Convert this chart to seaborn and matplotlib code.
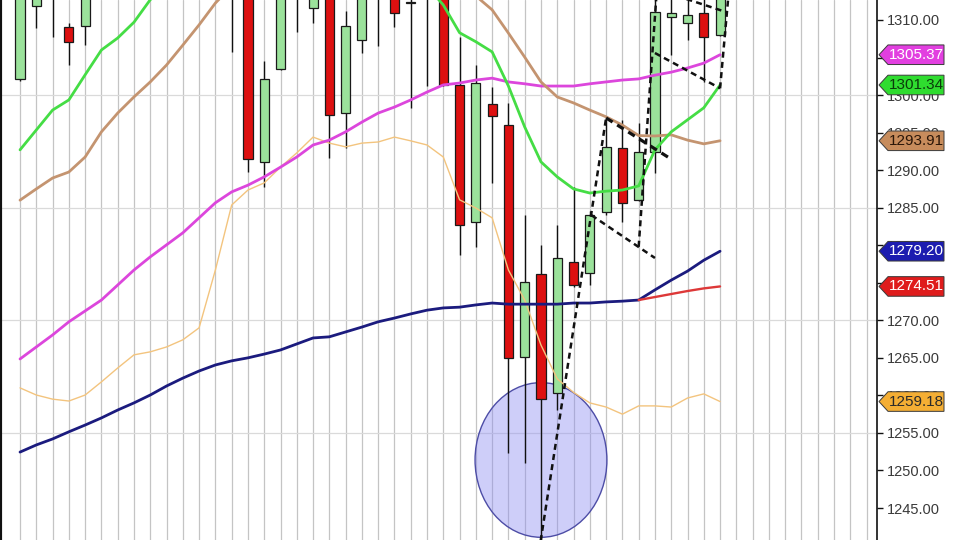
import numpy as np
import pandas as pd
import matplotlib
matplotlib.use("Agg")
import matplotlib.pyplot as plt
import seaborn as sns
from matplotlib.patches import Polygon, Ellipse
from matplotlib.transforms import blended_transform_factory

# ---------------- data ----------------
days = np.arange(44)

opens = [1302.1, 1311.9, 1316.0, 1309.1, 1309.2, 1315.0, 1318.0, 1320.0, 1322.0, 1321.0,
         1323.0, 1322.0, 1324.0, 1321.0, 1316.0, 1291.1, 1303.5, 1316.0, 1311.6, 1315.0,
         1297.6, 1307.35, 1317.0, 1316.0, 1312.25, 1314.0, 1316.0, 1301.35, 1283.1, 1298.8,
         1296.0, 1265.1, 1276.2, 1260.3, 1277.8, 1276.3, 1284.4, 1292.95, 1286.0, 1292.4,
         1310.4, 1309.6, 1310.9, 1308.0]
closes = [1316.0, 1315.0, 1314.0, 1307.1, 1316.0, 1318.0, 1320.0, 1322.0, 1321.0, 1323.0,
          1322.0, 1324.0, 1322.0, 1318.0, 1291.5, 1302.1, 1314.0, 1313.5, 1315.0, 1297.35,
          1309.2, 1315.0, 1315.0, 1310.9, 1312.3, 1316.0, 1301.35, 1282.7, 1301.6, 1297.2,
          1265.0, 1275.1, 1259.5, 1278.3, 1274.7, 1284.0, 1293.1, 1285.6, 1292.4, 1311.1,
          1310.9, 1310.7, 1307.7, 1314.0]
highs = [1317.0, 1316.0, 1317.0, 1309.6, 1317.0, 1319.0, 1321.0, 1323.0, 1324.0, 1324.5,
         1325.0, 1325.0, 1326.0, 1323.0, 1318.0, 1304.5, 1315.0, 1318.0, 1316.0, 1316.5,
         1311.2, 1316.0, 1318.0, 1317.0, 1315.0, 1317.0, 1317.0, 1307.7, 1304.0, 1301.1,
         1298.9, 1284.0, 1280.0, 1282.7, 1287.8, 1284.6, 1297.0, 1296.7, 1296.3, 1313.5,
         1313.5, 1313.5, 1313.5, 1315.0]
lows = [1301.9, 1308.9, 1307.7, 1304.0, 1306.7, 1314.0, 1316.0, 1318.0, 1319.0, 1319.5,
        1320.0, 1320.5, 1319.0, 1305.7, 1289.8, 1287.8, 1303.3, 1308.4, 1309.6, 1291.6,
        1292.95, 1305.6, 1306.5, 1309.1, 1298.3, 1301.2, 1301.2, 1278.7, 1279.8, 1288.3,
        1252.3, 1251.0, 1240.2, 1258.0, 1274.5, 1274.7, 1284.0, 1283.1, 1285.9, 1289.6,
        1305.3, 1307.3, 1301.7, 1307.9]

ma_green = [1292.7, 1295.35, 1298.0, 1299.35, 1302.7, 1306.0, 1307.6, 1309.7, 1312.7, 1314.5,
            1316.0, 1317.5, 1318.5, 1319.0, 1318.5, 1317.5, 1317.0, 1317.5, 1318.0, 1317.5,
            1317.0, 1317.5, 1318.0, 1317.0, 1316.0, 1314.5, 1312.0, 1308.3, 1307.1, 1305.75,
            1301.2, 1295.75, 1291.1, 1289.1, 1287.5, 1286.95, 1287.2, 1287.35, 1287.9, 1292.7,
            1295.1, 1296.7, 1298.3, 1301.34]
ma_brown = [1286.0, 1287.5, 1288.95, 1289.75, 1291.75, 1295.1, 1297.6, 1299.75, 1301.75, 1304.0,
            1306.65, 1309.35, 1312.25, 1314.5, 1316.0, 1317.0, 1318.0, 1318.5, 1319.0, 1319.5,
            1319.5, 1319.5, 1319.0, 1318.5, 1318.0, 1317.0, 1316.0, 1314.8, 1313.2, 1311.35,
            1308.25, 1305.05, 1301.75, 1299.75, 1298.95, 1298.0, 1297.1, 1296.0, 1294.6, 1294.55,
            1294.7, 1294.0, 1293.5, 1293.91]
ma_magenta = [1264.85, 1266.45, 1268.05, 1269.8, 1271.25, 1272.7, 1274.7, 1276.7, 1278.45, 1280.05,
              1281.65, 1283.65, 1285.65, 1287.1, 1288.0, 1289.1, 1290.4, 1291.75, 1293.35, 1294.0,
              1295.1, 1296.4, 1297.6, 1298.4, 1299.35, 1300.4, 1301.35, 1301.6, 1302.0, 1302.25,
              1301.75, 1301.5, 1301.2, 1301.2, 1301.2, 1301.5, 1301.75, 1302.0, 1302.15, 1302.65,
              1303.05, 1303.6, 1304.25, 1305.37]
band_orange = [1261.0, 1260.05, 1259.5, 1259.25, 1260.05, 1261.8, 1263.65, 1265.4, 1265.8, 1266.45,
               1267.4, 1269.0, 1276.7, 1285.35, 1287.35, 1288.3, 1290.4, 1292.3, 1294.4, 1293.6,
               1293.1, 1293.6, 1293.75, 1294.4, 1293.9, 1293.35, 1291.75, 1286.05, 1284.95, 1283.65,
               1276.7, 1272.7, 1266.7, 1262.2, 1260.4, 1259.0, 1258.45, 1257.5, 1258.6, 1258.6,
               1258.45, 1259.65, 1260.2, 1259.18]
ma_navy = [1252.45, 1253.4, 1254.2, 1255.15, 1256.05, 1257.0, 1258.05, 1259.0, 1260.05, 1261.25,
           1262.3, 1263.25, 1264.05, 1264.6, 1265.0, 1265.5, 1266.05, 1266.85, 1267.65, 1267.8,
           1268.45, 1269.1, 1269.8, 1270.3, 1270.85, 1271.35, 1271.65, 1271.75, 1272.05, 1272.3,
           1272.15, 1272.15, 1272.15, 1272.15, 1272.3, 1272.3, 1272.45, 1272.55, 1272.7, 1274.05,
           1275.35, 1276.55, 1278.0, 1279.2]
red_days = [38, 39, 40, 41, 42, 43]
ma_red = [1272.7, 1273.1, 1273.5, 1273.9, 1274.25, 1274.51]

# annotation lines (day, price)
flag_lines = {
    "pole1": [(31.9, 1239.5), (36.0, 1296.95)],
    "top1": [(36.0, 1296.95), (39.9, 1291.6)],
    "bottom1": [(35.1, 1284.0), (39.0, 1278.3)],
    "pole2": [(38.0, 1279.8), (39.1, 1313.5)],
    "top2": [(40.5, 1313.1), (43.45, 1311.0)],
    "bottom2": [(39.0, 1305.6), (43.0, 1300.9)],
    "right2": [(43.0, 1300.9), (43.55, 1314.1)],
}
ellipse_center = (32.0, 1251.4)
ellipse_size = (8.1, 20.6)

tick_values = [1245, 1250, 1255, 1260, 1265, 1270, 1275, 1280, 1285, 1290, 1295, 1300, 1305, 1310]
hgrid_levels = [1255, 1270, 1285, 1300]

tag_values = [1305.37, 1301.34, 1293.91, 1279.20, 1274.51, 1259.18]
tag_fill = ['#e23fe0', '#2fdc2f', '#c78c5c', '#1c1cb0', '#df1c1c', '#f4ae34']
tag_text = ['white', '#0b3b0b', '#2a1608', 'white', 'white', '#2a2a2a']

# ---------------- style ----------------
sns.set_style("white")
plt.rcParams['font.family'] = ['Liberation Sans', 'DejaVu Sans']

fig = plt.figure(figsize=(9.6, 5.4), dpi=100)
fig.patch.set_facecolor('white')
ax = fig.add_axes([0.0, 0.0, 877 / 960, 1.0])
ax.set_xlim(-1.23, 52.64)
ax.set_ylim(1240.74, 1312.66)

# grid
ax.set_xticks(np.arange(0, 53))
ax.xaxis.grid(True, color='#c4c4c4', linewidth=0.9)
ax.tick_params(axis='x', length=0, labelbottom=False)
for lv in hgrid_levels:
    ax.axhline(lv, color='#dadada', linewidth=0.9, zorder=0.6)
ax.set_axisbelow(True)

# ellipse highlight
ell = Ellipse(ellipse_center, ellipse_size[0], ellipse_size[1],
              facecolor=(0.55, 0.55, 0.95, 0.42), edgecolor=(0.30, 0.30, 0.65, 1.0),
              linewidth=1.0, zorder=1.5)
ax.add_patch(ell)

# candles
o = np.array(opens); c = np.array(closes); h = np.array(highs); l = np.array(lows)
up = c >= o
bottom = np.minimum(o, c)
height = np.maximum(np.abs(c - o), 0.08)
ax.vlines(days, l, h, color='#111111', linewidth=1.0, zorder=3)
ax.bar(days[up], height[up], bottom=bottom[up], width=0.56, color='#9be29b',
       edgecolor='#1a1a1a', linewidth=0.9, zorder=4)
ax.bar(days[~up], height[~up], bottom=bottom[~up], width=0.56, color='#dd1010',
       edgecolor='#1a1a1a', linewidth=0.9, zorder=4)

# moving averages / bands
sns.lineplot(x=days, y=band_orange, ax=ax, color='#f3c47e', linewidth=1.0, zorder=5)
sns.lineplot(x=days, y=ma_navy, ax=ax, color='#1b1b7e', linewidth=2.0, zorder=5)
sns.lineplot(x=red_days, y=ma_red, ax=ax, color='#dd3838', linewidth=1.7, zorder=5)
sns.lineplot(x=days, y=ma_magenta, ax=ax, color='#dc46dc', linewidth=2.0, zorder=5)
sns.lineplot(x=days, y=ma_brown, ax=ax, color='#c49470', linewidth=2.0, zorder=5)
sns.lineplot(x=days, y=ma_green, ax=ax, color='#45dd45', linewidth=2.0, zorder=5)

# flag annotation lines
for name, pts in flag_lines.items():
    xs = [p[0] for p in pts]; ys = [p[1] for p in pts]
    lw = 2.3 if name == "top1" else 1.8
    ax.plot(xs, ys, color='#111111', linewidth=lw, linestyle=(0, (2.4, 1.7)),
            zorder=6, solid_capstyle='butt')

# axes / ticks
ax.set_xlabel(''); ax.set_ylabel('')
ax.yaxis.tick_right()
ax.set_yticks(tick_values)
ax.set_yticklabels([f"{v:.2f}" for v in tick_values])
ax.tick_params(axis='y', length=4, width=1, color='#111111', labelsize=10.5,
               labelcolor='#3a3a3a', pad=3)
for s in ['top', 'bottom']:
    ax.spines[s].set_visible(False)
ax.spines['left'].set_color('#111111'); ax.spines['left'].set_linewidth(3.0)
ax.spines['right'].set_color('#111111'); ax.spines['right'].set_linewidth(1.2)
if ax.get_legend() is not None:
    ax.get_legend().remove()

# price tags
tr = blended_transform_factory(fig.transFigure, ax.transData)
half = 9.8 / 7.508
x_tip, x_l, x_r = 879 / 960, 888 / 960, 944 / 960
for v, fc, tc in zip(tag_values, tag_fill, tag_text):
    poly = Polygon([(x_tip, v), (x_l, v + half), (x_r, v + half), (x_r, v - half), (x_l, v - half)],
                   closed=True, transform=tr, facecolor=fc, edgecolor='#3a3a3a',
                   linewidth=0.7, clip_on=False, zorder=20)
    ax.add_artist(poly)
    ax.text((x_l + x_r) / 2, v, f"{v:.2f}", transform=tr, ha='center', va='center',
            fontsize=11, color=tc, clip_on=False, zorder=21)

fig.savefig('out.png', dpi=100)
